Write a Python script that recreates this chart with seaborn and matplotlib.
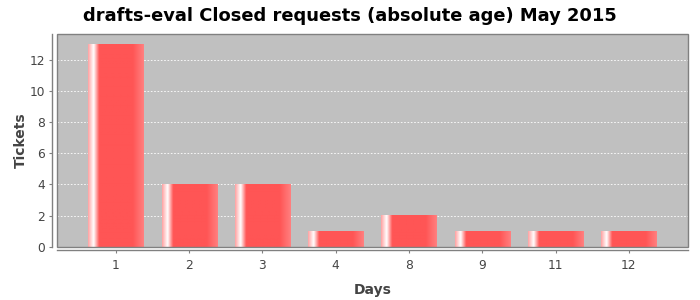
import numpy as np
import pandas as pd
import matplotlib
matplotlib.use("Agg")
import matplotlib.pyplot as plt
from matplotlib.patches import Rectangle
from matplotlib.colors import LinearSegmentedColormap
import seaborn as sns

days = ["1", "2", "3", "4", "8", "9", "11", "12"]
tickets = [13, 4, 4, 1, 2, 1, 1, 1]
title = "drafts-eval Closed requests (absolute age) May 2015"

df = pd.DataFrame({"Days": days, "Tickets": tickets})

sns.set_theme(style="white")
plt.rcParams["font.family"] = ["DejaVu Sans"]

fig = plt.figure(figsize=(7, 3), dpi=100)
ax = fig.add_axes([56.7 / 700, 1 - 246.7 / 300, (688 - 56.7) / 700, (246.7 - 34) / 300])
ax.set_facecolor("#C0C0C0")

sns.barplot(data=df, x="Days", y="Tickets", order=days, color="#FF5555",
            width=0.754, ax=ax, saturation=1, zorder=3)

# gradient painter like JFreeChart
base = np.array([1.0, 0x55 / 255, 0x55 / 255])
bright = np.array([1.0, 0x80 / 255, 0x80 / 255])
white = np.array([1.0, 1.0, 1.0])
cmap = LinearSegmentedColormap.from_list(
    "jf",
    [(0.0, base * 0.55 + white * 0.45), (0.10, white), (0.20, base), (0.80, base), (1.0, bright)],
)
grad = np.linspace(0, 1, 256).reshape(1, -1)
for p in list(ax.patches):
    x, y = p.get_x(), p.get_y()
    w, h = p.get_width(), p.get_height()
    ax.imshow(grad, cmap=cmap, aspect="auto", extent=(x, x + w, y, y + h),
              zorder=3, interpolation="bilinear")
    p.set_facecolor("none")
    p.set_edgecolor("none")

ax.set_xlim(-0.808, 7.808)
ax.set_ylim(0, 13.65)
ax.set_yticks(range(0, 13, 2))
ax.yaxis.grid(True, color="white", linestyle=(0, (2, 2)), linewidth=0.6, zorder=1)
ax.set_axisbelow(True)

# frame of plot area
ax.add_patch(Rectangle((0, 0), 1, 1, transform=ax.transAxes, fill=False,
                       ec="#808080", lw=1.0, clip_on=False, zorder=5))

for s in ["top", "right"]:
    ax.spines[s].set_visible(False)
ax.spines["left"].set_position(("outward", 3.4))
ax.spines["bottom"].set_position(("outward", 2.4))
for s in ["left", "bottom"]:
    ax.spines[s].set_color("#808080")
    ax.spines[s].set_linewidth(1.0)

ax.tick_params(axis="both", direction="out", length=2, width=0.8, color="#808080",
               labelsize=8.8, labelcolor="#444444", left=True, bottom=True)
ax.tick_params(axis="x", pad=4.5)
ax.tick_params(axis="y", pad=3)
ax.set_xlabel("Days", fontsize=10, fontweight="bold", color="#444444", labelpad=8)
ax.set_ylabel("Tickets", fontsize=10, fontweight="bold", color="#444444", labelpad=1)

fig.text(0.5, 1 - 20.7 / 300, title, ha="center", va="baseline", fontsize=12.85,
         fontweight="bold", color="black")

fig.savefig("out.png", dpi=100)
